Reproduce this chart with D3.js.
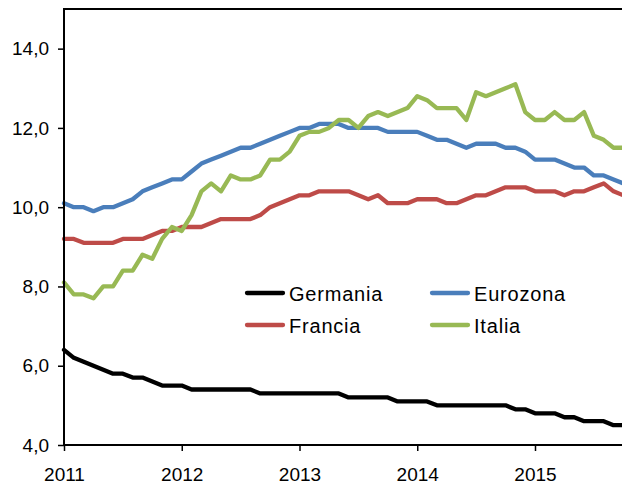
<!DOCTYPE html>
<html>
<head>
<meta charset="utf-8">
<script src="https://cdn.jsdelivr.net/npm/d3@7"></script>
<style>
  html, body { margin: 0; padding: 0; background: #fff; }
  svg { display: block; font-family: "Liberation Sans", Arial, sans-serif; }
</style>
</head>
<body>
<svg id="chart" width="622" height="483"></svg>
<script>
// Monthly data, Jan 2011 onward
const yearLabels = ["2011", "2012", "2013", "2014", "2015"];
const yTicks = [4, 6, 8, 10, 12, 14];

const germania = [6.4,6.2,6.1,6.0,5.9,5.8,5.8,5.7,5.7,5.6,5.5,5.5,5.5,5.4,5.4,5.4,5.4,5.4,5.4,5.4,
  5.3,5.3,5.3,5.3,5.3,5.3,5.3,5.3,5.3,5.2,5.2,5.2,5.2,5.2,5.1,5.1,5.1,5.1,5.0,5.0,
  5.0,5.0,5.0,5.0,5.0,5.0,4.9,4.9,4.8,4.8,4.8,4.7,4.7,4.6,4.6,4.6,4.5,4.5];
const eurozona = [10.1,10.0,10.0,9.9,10.0,10.0,10.1,10.2,10.4,10.5,10.6,10.7,10.7,10.9,11.1,11.2,11.3,11.4,11.5,11.5,
  11.6,11.7,11.8,11.9,12.0,12.0,12.1,12.1,12.1,12.0,12.0,12.0,12.0,11.9,11.9,11.9,11.9,11.8,11.7,11.7,
  11.6,11.5,11.6,11.6,11.6,11.5,11.5,11.4,11.2,11.2,11.2,11.1,11.0,11.0,10.8,10.8,10.7,10.6];
const francia = [9.2,9.2,9.1,9.1,9.1,9.1,9.2,9.2,9.2,9.3,9.4,9.4,9.5,9.5,9.5,9.6,9.7,9.7,9.7,9.7,
  9.8,10.0,10.1,10.2,10.3,10.3,10.4,10.4,10.4,10.4,10.3,10.2,10.3,10.1,10.1,10.1,10.2,10.2,10.2,10.1,
  10.1,10.2,10.3,10.3,10.4,10.5,10.5,10.5,10.4,10.4,10.4,10.3,10.4,10.4,10.5,10.6,10.4,10.3];
const italia = [8.1,7.8,7.8,7.7,8.0,8.0,8.4,8.4,8.8,8.7,9.2,9.5,9.4,9.8,10.4,10.6,10.4,10.8,10.7,10.7,
  10.8,11.2,11.2,11.4,11.8,11.9,11.9,12.0,12.2,12.2,12.0,12.3,12.4,12.3,12.4,12.5,12.8,12.7,12.5,12.5,
  12.5,12.2,12.9,12.8,12.9,13.0,13.1,12.4,12.2,12.2,12.4,12.2,12.2,12.4,11.8,11.7,11.5,11.5];

const seriesNames = ["Germania", "Eurozona", "Francia", "Italia"];
const seriesColors = ["#000000", "#4A7EBB", "#BE4B48", "#98B954"];
const seriesData = [germania, eurozona, francia, italia];

const svg = d3.select("#chart");
const mLeft = 64, mTop = 9, mBottom = 445;

const x = d3.scaleLinear().domain([0, 48]).range([mLeft, 535]);
const y = d3.scaleLinear().domain([4, 15]).range([mBottom, mTop]);

// top border
svg.append("line").attr("x1", mLeft - 1).attr("x2", 622).attr("y1", mTop).attr("y2", mTop)
  .attr("stroke", "#000").attr("stroke-width", 2);

// Series
const line = d3.line().x((d, i) => x(i)).y(d => y(d)).curve(d3.curveLinear);
seriesData.forEach((arr, k) => {
  svg.append("path").datum(arr).attr("d", line)
    .attr("fill", "none").attr("stroke", seriesColors[k])
    .attr("stroke-width", 4.3).attr("stroke-linejoin", "round").attr("stroke-linecap", "round");
});

// Y axis
const yAxis = d3.axisLeft(y).tickValues(yTicks).tickSize(6).tickPadding(9)
  .tickFormat(d => d3.format(".1f")(d).replace(".", ","));
const ya = svg.append("g").attr("transform", `translate(${mLeft},0)`).call(yAxis);
ya.select(".domain").remove();
ya.selectAll(".tick line").attr("stroke", "#000").attr("stroke-width", 1.5);
ya.selectAll("text").attr("font-size", 19).attr("fill", "#000")
  .attr("font-family", "Liberation Sans, Arial, sans-serif");
svg.append("line").attr("x1", mLeft).attr("x2", mLeft).attr("y1", mTop - 1).attr("y2", mBottom + 1)
  .attr("stroke", "#000").attr("stroke-width", 2);

// X axis
const xAxis = d3.axisBottom(x).tickValues([0, 12, 24, 36, 48]).tickSize(6).tickPadding(17)
  .tickFormat((d, i) => yearLabels[i]);
const xa = svg.append("g").attr("transform", `translate(0,${mBottom})`).call(xAxis);
xa.select(".domain").remove();
xa.selectAll(".tick line").attr("stroke", "#000").attr("stroke-width", 1.5);
xa.selectAll("text").attr("font-size", 19).attr("fill", "#000")
  .attr("font-family", "Liberation Sans, Arial, sans-serif");
svg.append("line").attr("x1", mLeft - 1).attr("x2", 622).attr("y1", mBottom).attr("y2", mBottom)
  .attr("stroke", "#000").attr("stroke-width", 2);

// Legend
const legendPos = [[245, 293], [430, 293], [245, 325], [430, 325]];
seriesNames.forEach((name, k) => {
  const [lx, ly] = legendPos[k];
  svg.append("line").attr("x1", lx + 2).attr("x2", lx + 38).attr("y1", ly).attr("y2", ly)
    .attr("stroke", seriesColors[k]).attr("stroke-width", 4.3).attr("stroke-linecap", "round");
  svg.append("text").attr("x", lx + 44).attr("y", ly + 8).text(name)
    .attr("font-size", 20).attr("letter-spacing", 0.8).attr("fill", "#000");
});
</script>
</body>
</html>
